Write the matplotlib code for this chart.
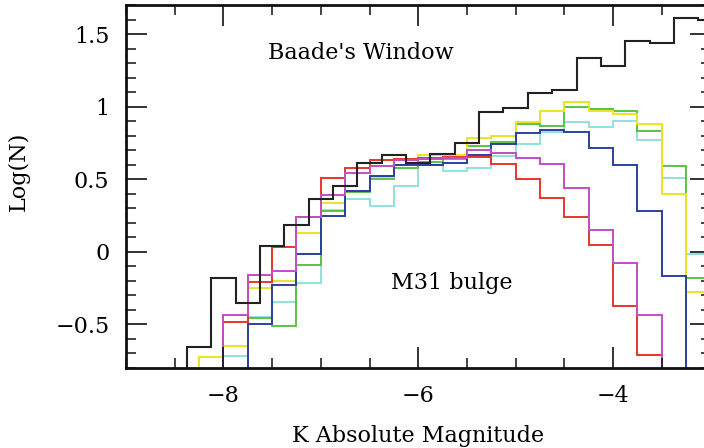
import numpy as np
import matplotlib
matplotlib.use("Agg")
import matplotlib.pyplot as plt
from matplotlib.ticker import MultipleLocator, FuncFormatter

plt.rcParams['font.family'] = ['DejaVu Serif']

# value used for bins that fall below the bottom of the plot (no stars)
FLOOR = -1.0

# Baade's Window, bins of 0.25 mag starting at -8.625
bw_start = -8.625
bw_logn = [FLOOR, -0.654, -0.178, -0.353, 0.043, 0.187, 0.364, 0.451, 0.615,
           0.665, 0.612, 0.675, 0.752, 0.966, 0.991, 1.094, 1.116, 1.333,
           1.282, 1.451, 1.440, 1.613, 1.600]

# M31 bulge fields, bins of 0.25 mag starting at -8.5
m31_start = -8.5
red = [FLOOR, FLOOR, -0.485, -0.205, 0.034, 0.240, 0.506, 0.576, 0.631, 0.640,
       0.645, 0.650, 0.650, 0.608, 0.501, 0.373, 0.239, 0.045, -0.376, -0.711,
       FLOOR, FLOOR]
magenta = [FLOOR, FLOOR, -0.433, -0.160, -0.130, 0.239, 0.394, 0.540, 0.592,
           0.631, 0.640, 0.645, 0.700, 0.684, 0.649, 0.606, 0.440, 0.148,
           -0.080, -0.433, FLOOR, FLOOR]
blue = [FLOOR, FLOOR, FLOOR, -0.500, -0.228, -0.018, 0.246, 0.420, 0.524,
        0.599, 0.600, 0.610, 0.664, 0.740, 0.820, 0.836, 0.827, 0.716, 0.598,
        0.284, -0.164, FLOOR]
green = [FLOOR, FLOOR, FLOOR, -0.456, -0.510, -0.091, 0.280, 0.410, 0.500,
         0.574, 0.620, 0.640, 0.729, 0.759, 0.880, 0.870, 0.995, 0.984, 0.968,
         0.831, 0.588, -0.183]
yellow = [FLOOR, -0.725, -0.649, -0.251, -0.198, 0.130, 0.337, 0.420, 0.513,
          0.630, 0.665, 0.670, 0.786, 0.797, 0.893, 0.968, 1.030, 0.968, 0.952,
          0.877, 0.398, -0.278]
cyan = [FLOOR, FLOOR, -0.714, -0.450, -0.345, -0.217, 0.290, 0.364, 0.315,
        0.450, 0.600, 0.558, 0.576, 0.660, 0.740, 0.824, 0.895, 0.861, 0.904,
        0.770, 0.506, -0.016]

binw = 0.25

fig = plt.figure(figsize=(7.04, 4.48), dpi=100)
ax = fig.add_axes([126 / 704, 80 / 448, 584.5 / 704, 363 / 448])

m31_edges = m31_start + binw * np.arange(len(red) + 1)
series = [(cyan, '#8ee3da'), (green, '#5cc246'), (yellow, '#ece424'),
          (blue, '#2b3f9e'), (red, '#e8362b'), (magenta, '#c24fc4')]
for vals, col in series:
    ax.stairs(vals, m31_edges, baseline=None, color=col, lw=1.4)

bw_edges = bw_start + binw * np.arange(len(bw_logn) + 1)
ax.stairs(bw_logn, bw_edges, baseline=None, color='#222222', lw=1.5)

ax.text(-6.594, 1.369, "Baade's Window", ha='center', va='center', fontsize=16)
ax.text(-5.659, -0.217, "M31 bulge", ha='center', va='center', fontsize=16)

ax.set_xlim(-9, -3)
ax.set_ylim(-0.8, 1.7)

ax.xaxis.set_major_locator(MultipleLocator(2))
ax.xaxis.set_minor_locator(MultipleLocator(0.5))
ax.yaxis.set_major_locator(MultipleLocator(0.5))
ax.yaxis.set_minor_locator(MultipleLocator(0.1))
fmt = FuncFormatter(lambda v, p: f'{v:g}'.replace('-', '\u2212'))
ax.xaxis.set_major_formatter(fmt)
ax.yaxis.set_major_formatter(fmt)

ax.tick_params(which='both', direction='in', top=True, right=True,
               labelsize=16, color='#111111')
ax.tick_params(which='major', length=15, width=1.2, pad=12)
ax.tick_params(which='minor', length=7.5, width=1.1)
for s in ax.spines.values():
    s.set_linewidth(2.0)
    s.set_color('#111111')

ax.set_xlabel("K Absolute Magnitude", fontsize=16, va='baseline')
ax.set_ylabel("Log(N)", fontsize=16)
ax.xaxis.set_label_coords(0.5, -0.204)
ax.yaxis.set_label_coords(-0.165, 0.543)

fig.savefig("out.png", dpi=100)
